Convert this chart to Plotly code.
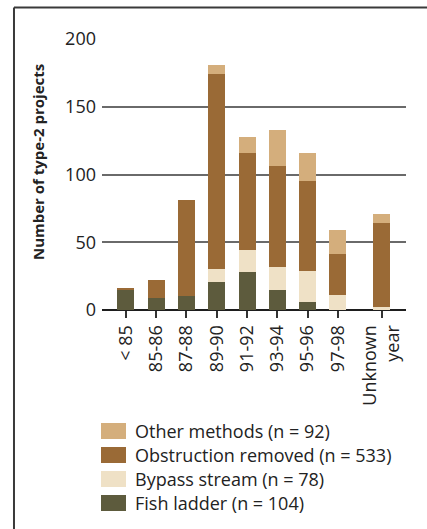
import plotly.graph_objects as go

periods = ["< 85", "85-86", "87-88", "89-90", "91-92", "93-94", "95-96", "97-98", "Unknown<br>year"]
# numeric positions (the "Unknown" group sits a bit apart from the years)
positions = [0, 1, 2, 3, 4, 5, 6, 7, 8.45]

fish_ladder = [15, 9, 10, 21, 28, 15, 6, 0, 0]
bypass_stream = [0, 0, 0, 9, 16, 17, 23, 11, 2]
obstruction_removed = [1, 13, 71, 144, 72, 74, 66, 30, 62]
other_methods = [0, 0, 0, 7, 12, 27, 21, 18, 7]

names = ["Fish ladder (n = 104)", "Bypass stream (n = 78)",
         "Obstruction removed (n = 533)", "Other methods (n = 92)"]
series = [fish_ladder, bypass_stream, obstruction_removed, other_methods]
colors = ["#5d5b3d", "#efe1c6", "#9a6a36", "#d4ae7c"]

FONT = "Open Sans"
TXT = "#222222"

fig = go.Figure()
for name, vals, col in zip(names, series, colors):
    fig.add_trace(go.Bar(
        x=positions, y=vals, name=name, width=0.56,
        marker=dict(color=col, line=dict(width=0)),
        showlegend=False,
    ))

fig.update_layout(
    width=427, height=529,
    barmode="stack",
    plot_bgcolor="white", paper_bgcolor="white",
    margin=dict(l=102, r=21, t=39, b=219),
    font=dict(family=FONT, size=18, color=TXT),
)

fig.update_xaxes(
    range=[-0.79, 9.25],
    tickmode="array", tickvals=positions, ticktext=periods,
    tickangle=-90, ticks="outside", ticklen=7, tickwidth=1.5, tickcolor="#333333",
    tickfont=dict(size=18, color=TXT),
    showgrid=False, zeroline=False, showline=False,
)
fig.update_yaxes(
    range=[0, 200],
    tickvals=[0, 50, 100, 150, 200],
    tickfont=dict(size=18, color=TXT),
    ticklabelstandoff=5,
    showgrid=True, gridcolor="#6a6a6a", gridwidth=1.6,
    zeroline=True, zerolinecolor="#1e1e1e", zerolinewidth=2.2,
    showline=False, ticks="",
)

# y axis title
fig.add_annotation(
    text="<b>Number of type-2 projects</b>", textangle=-90,
    xref="paper", yref="paper", x=-0.2105, y=0.546,
    xanchor="center", yanchor="middle",
    showarrow=False, font=dict(size=15, color=TXT),
)

# frame (top and left edge)
fig.add_shape(type="line", xref="paper", yref="paper",
              x0=-0.2895, x1=1.07, y0=1.1162, y1=1.1162,
              line=dict(color="#3a3a3a", width=2))
fig.add_shape(type="line", xref="paper", yref="paper",
              x0=-0.2895, x1=-0.2895, y0=1.1162, y1=-0.81,
              line=dict(color="#3a3a3a", width=2))

# legend (drawn manually to get the wide swatches)
plot_w, plot_h = 304.0, 271.0
row_y = [431, 455, 479, 503]
for i, (name, col) in enumerate(zip(reversed(names), reversed(colors))):
    yc = (310 - row_y[i]) / plot_h
    fig.add_shape(type="rect", xref="paper", yref="paper",
                  x0=(101 - 102) / plot_w, x1=(126 - 102) / plot_w,
                  y0=yc - 8 / plot_h, y1=yc + 8 / plot_h,
                  fillcolor=col, line=dict(width=0))
    fig.add_annotation(text=name, xref="paper", yref="paper",
                       x=(133 - 102) / plot_w, y=yc, xanchor="left", yanchor="middle",
                       showarrow=False, font=dict(size=18, color=TXT))

fig.write_html(
    "out.html",
    config={"displayModeBar": False},
    post_script="document.body.style.margin='0';"
                "document.body.style.overflow='hidden';"
                "document.documentElement.style.overflow='hidden';",
)
